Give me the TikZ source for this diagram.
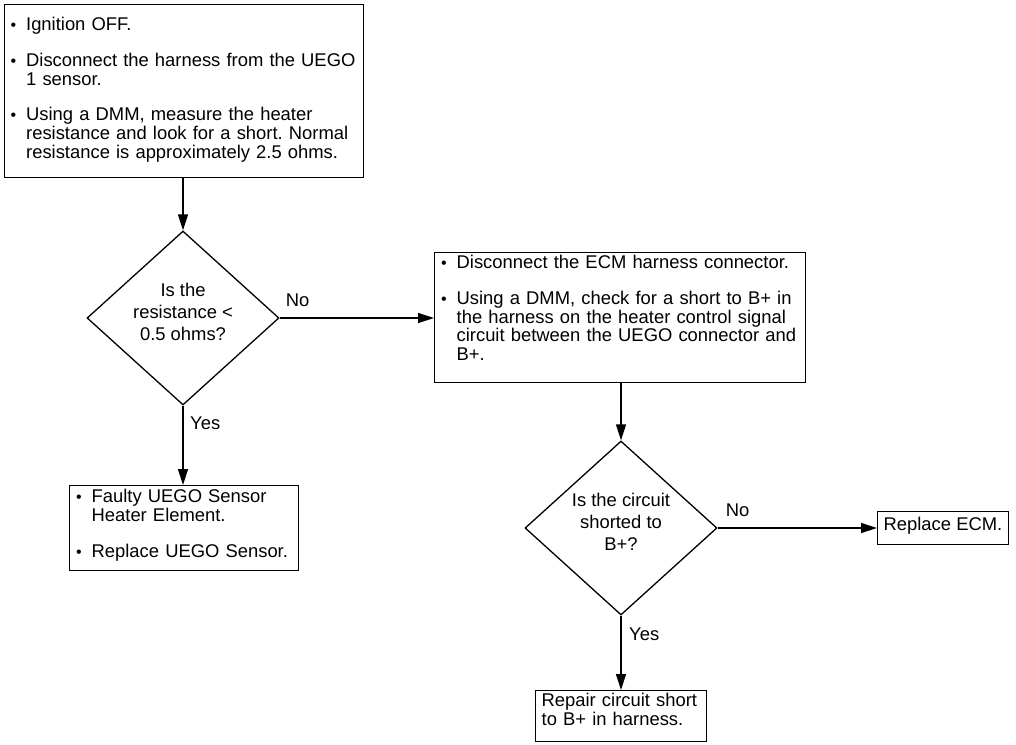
\documentclass[tikz,border=0pt]{standalone}
\usepackage{fontspec}
\setmainfont{Liberation Sans}
\frenchspacing
\usetikzlibrary{shapes.geometric,arrows.meta,positioning}

\begin{document}
\begin{tikzpicture}[x=1pt,y=-1pt,>={Triangle[length=16pt,width=10pt]}]
	%---------------- Styles ----------------
	\tikzset{
		stepbox/.style={draw, line width=1.3pt, inner xsep=6pt, inner ysep=0pt,
			align=left, anchor=north west, font=\fontsize{18.4}{18.7}\selectfont}, % text boxes
		decision/.style={draw, diamond, line width=1.3pt, inner sep=0pt,
			minimum width=192pt, minimum height=174pt, align=center,
			text height=58pt, text depth=14pt,
			font=\fontsize{18.4}{22}\selectfont},                                   % questions
		flow/.style={->, line width=1.3pt},                                          % connectors
		lbl/.style={inner sep=0pt, font=\fontsize{18.4}{18.7}\selectfont},           % Yes / No
	}
	\def\blt{\makebox[16pt][l]{\hspace{0.5pt}\fontsize{16}{16}\selectfont\textbullet}}
	\def\hgap{\hspace*{16pt}}
	
	\useasboundingbox (0,0) rectangle (1016,744);
	
	%---------------- Boxes ----------------
	\node[stepbox, text width=347pt, text height=26pt, text depth=147pt] (testbox) at (3.5,4)
	{\blt Ignition OFF.\\[17pt]
		\blt Disconnect the harness from the UEGO\\
		\hgap 1 sensor.\\[17pt]
		\blt Using a DMM, measure the heater\\
		\hgap resistance and look for a short. Normal\\
		\hgap resistance is approximately 2.5 ohms.};
	
	\node[decision] (resq) at (183,318) {Is the\\resistance <\\0.5 ohms?};
	
	\node[stepbox, text width=359pt, text height=16pt, text depth=114pt] (ecmbox) at (434,252)
	{\blt Disconnect the ECM harness connector.\\[17pt]
		\blt Using a DMM, check for a short to B+ in\\
		\hgap the harness on the heater control signal\\
		\hgap circuit between the UEGO connector and\\
		\hgap B+.};
	
	\node[stepbox, text width=217pt, text height=17pt, text depth=68pt] (sensorbox) at (69,485)
	{\blt Faulty UEGO Sensor\\
		\hgap Heater Element.\\[17pt]
		\blt Replace UEGO Sensor.};
	
	\node[decision] (shortq) at (621,528) {Is the circuit\\shorted to\\B+?};
	
	\node[stepbox, text height=19pt, text depth=14pt] (ecmnew) at (877,511) {Replace ECM.};
	
	\node[stepbox, text width=159pt, text height=16pt, text depth=35pt] (repairbox) at (535,690)
	{Repair circuit short\\to B+ in harness.};
	
	%---------------- Connectors ----------------
	\draw[flow] (testbox.south -| resq.north) -- (resq.north);
	\draw[flow] (resq.east) -- (resq.east -| ecmbox.west);
	\draw[flow] (resq.south) -- (resq.south |- sensorbox.north);
	\draw[flow] (ecmbox.south -| shortq.north) -- (shortq.north);
	\draw[flow] (shortq.east) -- (shortq.east -| ecmnew.west);
	\draw[flow] (shortq.south) -- (shortq.south |- repairbox.north);
	
	%---------------- Yes / No labels ----------------
	\node[lbl, above right=11pt and 6pt of resq.east] (no1) {No};
	\node[lbl, below right=11pt and 7pt of resq.south] (yes1) {Yes};
	\node[lbl, above right=11pt and 8pt of shortq.east] (no2) {No};
	\node[lbl, below right=12pt and 8pt of shortq.south] (yes2) {Yes};
\end{tikzpicture}
\end{document}
